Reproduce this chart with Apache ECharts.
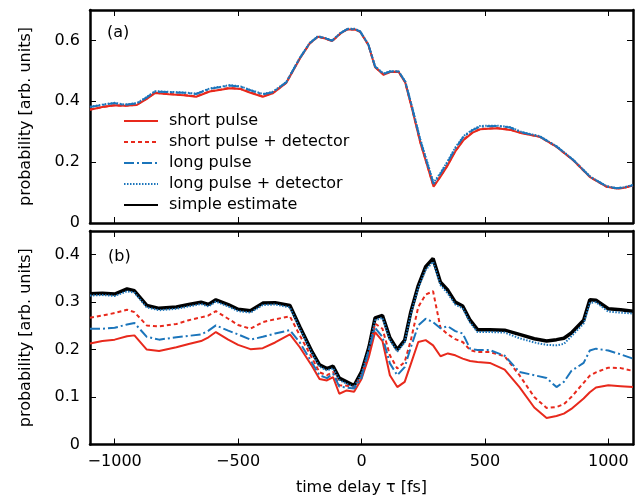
<!DOCTYPE html>
<html><head><meta charset="utf-8">
<script src="https://cdn.jsdelivr.net/npm/echarts@6/dist/echarts.min.js"></script>
<style>html,body{margin:0;padding:0;background:#fff}#c{width:642px;height:497px}</style>
</head><body><div id="c"></div>
<script>
// ---------- panel (a) ----------
const timeA = [-1100,-1050,-1000,-960,-910,-870,-837,-780,-720,-670,-615,-570,-534,-490,-453,-400,-360,-305,-250,-210,-177,-150,-119,-85,-58,-26,-5,28,55,89,116,150,177,204,238,265,292,320,346,380,414,450,481,548,602,649,723,791,858,926,994,1034,1060,1100];
const shortA = [0.372,0.381,0.387,0.385,0.388,0.408,0.427,0.423,0.420,0.415,0.432,0.438,0.443,0.440,0.429,0.415,0.426,0.460,0.540,0.590,0.612,0.607,0.598,0.623,0.636,0.636,0.628,0.585,0.512,0.487,0.496,0.497,0.462,0.378,0.265,0.192,0.119,0.152,0.185,0.235,0.273,0.297,0.308,0.311,0.306,0.295,0.283,0.250,0.206,0.151,0.119,0.113,0.115,0.123];
const shortDetA = [0.373,0.381,0.387,0.385,0.389,0.409,0.428,0.424,0.421,0.416,0.433,0.439,0.444,0.441,0.430,0.416,0.427,0.461,0.541,0.590,0.612,0.607,0.598,0.623,0.636,0.636,0.628,0.585,0.513,0.488,0.497,0.497,0.463,0.379,0.267,0.194,0.121,0.154,0.187,0.237,0.275,0.298,0.309,0.312,0.307,0.296,0.283,0.250,0.206,0.151,0.119,0.113,0.115,0.123];
const longA = [0.381,0.388,0.394,0.388,0.393,0.413,0.432,0.430,0.428,0.424,0.441,0.447,0.452,0.448,0.437,0.423,0.430,0.462,0.542,0.591,0.613,0.608,0.599,0.624,0.637,0.637,0.629,0.586,0.514,0.490,0.498,0.498,0.465,0.383,0.273,0.200,0.128,0.162,0.196,0.245,0.284,0.305,0.317,0.319,0.314,0.298,0.284,0.251,0.207,0.152,0.120,0.114,0.116,0.124];
const longDetA = [0.382,0.389,0.395,0.389,0.394,0.414,0.433,0.431,0.429,0.425,0.442,0.448,0.453,0.449,0.438,0.424,0.431,0.463,0.543,0.592,0.614,0.609,0.600,0.625,0.638,0.638,0.630,0.587,0.515,0.491,0.499,0.499,0.466,0.385,0.276,0.204,0.132,0.165,0.199,0.248,0.286,0.307,0.319,0.320,0.315,0.299,0.285,0.252,0.208,0.153,0.121,0.115,0.117,0.125];

// ---------- panel (b) ----------
const timeB = [-1100,-1050,-1000,-950,-920,-870,-820,-750,-700,-650,-620,-590,-540,-500,-450,-400,-350,-290,-250,-200,-170,-140,-115,-90,-60,-30,0,30,55,85,115,145,175,200,230,260,290,320,350,380,410,440,470,520,580,640,700,750,790,820,850,900,925,950,1000,1050,1100];
const shortB = [0.213,0.218,0.221,0.228,0.230,0.200,0.197,0.205,0.212,0.218,0.226,0.237,0.221,0.210,0.201,0.203,0.215,0.232,0.205,0.165,0.138,0.135,0.142,0.107,0.114,0.111,0.138,0.185,0.237,0.218,0.146,0.121,0.132,0.170,0.216,0.220,0.209,0.186,0.192,0.188,0.181,0.176,0.174,0.172,0.158,0.121,0.078,0.056,0.060,0.065,0.075,0.097,0.110,0.120,0.125,0.123,0.121];
const shortDetB = [0.267,0.272,0.277,0.284,0.279,0.251,0.249,0.254,0.262,0.268,0.272,0.281,0.265,0.252,0.244,0.258,0.264,0.270,0.230,0.182,0.152,0.146,0.153,0.125,0.124,0.121,0.145,0.195,0.255,0.244,0.188,0.160,0.174,0.220,0.290,0.316,0.323,0.246,0.232,0.222,0.216,0.199,0.195,0.195,0.186,0.146,0.100,0.077,0.079,0.085,0.100,0.130,0.145,0.152,0.162,0.161,0.155];
const longB = [0.244,0.244,0.246,0.253,0.256,0.227,0.221,0.226,0.229,0.232,0.240,0.251,0.240,0.232,0.221,0.227,0.234,0.241,0.215,0.172,0.146,0.140,0.149,0.122,0.120,0.118,0.140,0.200,0.246,0.227,0.171,0.146,0.163,0.205,0.251,0.265,0.258,0.245,0.249,0.239,0.234,0.202,0.199,0.199,0.187,0.153,0.146,0.140,0.121,0.132,0.155,0.172,0.198,0.202,0.198,0.190,0.181];
const longDetB = [0.314,0.315,0.313,0.323,0.320,0.289,0.283,0.286,0.291,0.296,0.291,0.301,0.291,0.281,0.278,0.294,0.295,0.289,0.244,0.191,0.164,0.156,0.161,0.136,0.128,0.121,0.149,0.201,0.262,0.267,0.220,0.196,0.215,0.275,0.330,0.368,0.385,0.336,0.318,0.295,0.287,0.257,0.237,0.237,0.236,0.224,0.215,0.210,0.209,0.212,0.228,0.255,0.298,0.300,0.280,0.278,0.276];
const simpleB = [0.318,0.319,0.317,0.328,0.324,0.293,0.287,0.290,0.295,0.300,0.295,0.305,0.295,0.285,0.282,0.298,0.299,0.293,0.248,0.195,0.168,0.160,0.165,0.140,0.132,0.124,0.153,0.205,0.267,0.272,0.225,0.200,0.220,0.280,0.335,0.375,0.392,0.342,0.325,0.300,0.292,0.262,0.242,0.242,0.241,0.232,0.223,0.218,0.221,0.224,0.235,0.262,0.305,0.304,0.286,0.284,0.281];

// ---------- ticks / labels ----------
const xTicks = [-1000,-500,0,500,1000];
const yTicksA = [0,0.2,0.4,0.6];
const yTicksB = [0,0.1,0.2,0.3,0.4];
const seriesNames = ['short pulse','short pulse + detector','long pulse','long pulse + detector','simple estimate'];
const xName = 'time delay \u03c4 [fs]';
const yName = 'probability [arb. units]';
const panelLabels = ['(a)','(b)'];

const RED = '#e8291c', BLUE = '#1b75bb', BLACK = '#000000';
const FONT = 'DejaVu Sans';
const FS = 16;
const pair = (xs, ys) => xs.map((x, i) => [x, ys[i]]);

function xAx(gridIndex, pos, showLabels, name) {
  return {
    type: 'value', gridIndex, position: pos, min: -1100, max: 1100,
    axisLine: {show: true, onZero: false, lineStyle: {color: '#000', width: 2.5}},
    axisTick: {show: true, inside: true, length: 6, customValues: xTicks, lineStyle: {color: '#000', width: 1}},
    axisLabel: {show: showLabels, customValues: xTicks, margin: 9,
      formatter: v => v < 0 ? '\u2212' + Math.abs(v) : String(v),
      fontFamily: FONT, fontSize: FS, color: '#000'},
    splitLine: {show: false},
    name: name || '', nameLocation: 'middle', nameGap: 35,
    nameTextStyle: {fontFamily: FONT, fontSize: FS, color: '#000'}
  };
}
function yAx(gridIndex, pos, max, ticks, showLabels, name) {
  return {
    type: 'value', gridIndex, position: pos, min: 0, max: max,
    axisLine: {show: true, onZero: false, lineStyle: {color: '#000', width: 2.5}},
    axisTick: {show: true, inside: true, length: 6, customValues: ticks, lineStyle: {color: '#000', width: 1}},
    axisLabel: {show: showLabels, customValues: ticks, margin: 10,
      formatter: v => v === 0 ? '0' : v.toFixed(1),
      fontFamily: FONT, fontSize: FS, color: '#000'},
    splitLine: {show: false},
    name: name || '', nameLocation: 'middle', nameGap: 56,
    nameTextStyle: {fontFamily: FONT, fontSize: FS, color: '#000'}
  };
}

const styles = {
  'short pulse': {color: RED, width: 2, type: 'solid'},
  'short pulse + detector': {color: RED, width: 2, type: [4, 3]},
  'long pulse': {color: BLUE, width: 2, type: [10, 3, 2, 3]},
  'long pulse + detector': {color: BLUE, width: 2, type: [1.5, 1.5]},
  'simple estimate': {color: BLACK, width: 3.5, type: 'solid'}
};
function mk(name, xi, yi, xs, ys) {
  const s = styles[name];
  return {name, type: 'line', xAxisIndex: xi, yAxisIndex: yi, data: pair(xs, ys),
    symbol: 'none', showSymbol: false, smooth: false, animation: false,
    lineStyle: {color: s.color, width: s.width, type: s.type, cap: 'butt'},
    itemStyle: {color: s.color}};
}

const chart = echarts.init(document.getElementById('c'), null, {renderer: 'canvas'});
chart.setOption({
  backgroundColor: '#fff',
  animation: false,
  grid: [
    {left: 90, right: 9, top: 10, height: 213},
    {left: 90, right: 9, top: 231, height: 213.5}
  ],
  xAxis: [
    xAx(0, 'bottom', false), xAx(0, 'top', false),
    xAx(1, 'bottom', true, xName), xAx(1, 'top', false)
  ],
  yAxis: [
    yAx(0, 'left', 0.7, yTicksA, true, yName), yAx(0, 'right', 0.7, yTicksA, false),
    yAx(1, 'left', 0.45, yTicksB, true, yName), yAx(1, 'right', 0.45, yTicksB, false)
  ],
  legend: {
    data: seriesNames, orient: 'vertical', left: 118, top: 108,
    itemWidth: 34, itemHeight: 16, itemGap: 5, selectedMode: false,
    itemStyle: {opacity: 0, borderWidth: 0},
    textStyle: {fontFamily: FONT, fontSize: FS, color: '#000', lineHeight: 16, padding: [0, 0, 0, 6]}
  },
  graphic: [
    {type: 'text', x: 107, y: 33, style: {text: panelLabels[0], font: FS + 'px "' + FONT + '"', fill: '#000', verticalAlign: 'middle'}},
    {type: 'text', x: 108, y: 257, style: {text: panelLabels[1], font: FS + 'px "' + FONT + '"', fill: '#000', verticalAlign: 'middle'}}
  ],
  series: [
    mk('short pulse', 0, 0, timeA, shortA),
    mk('short pulse + detector', 0, 0, timeA, shortDetA),
    mk('long pulse', 0, 0, timeA, longA),
    mk('long pulse + detector', 0, 0, timeA, longDetA),
    mk('simple estimate', 2, 2, timeB, simpleB),
    mk('short pulse', 2, 2, timeB, shortB),
    mk('short pulse + detector', 2, 2, timeB, shortDetB),
    mk('long pulse', 2, 2, timeB, longB),
    mk('long pulse + detector', 2, 2, timeB, longDetB)
  ]
});
</script></body></html>
